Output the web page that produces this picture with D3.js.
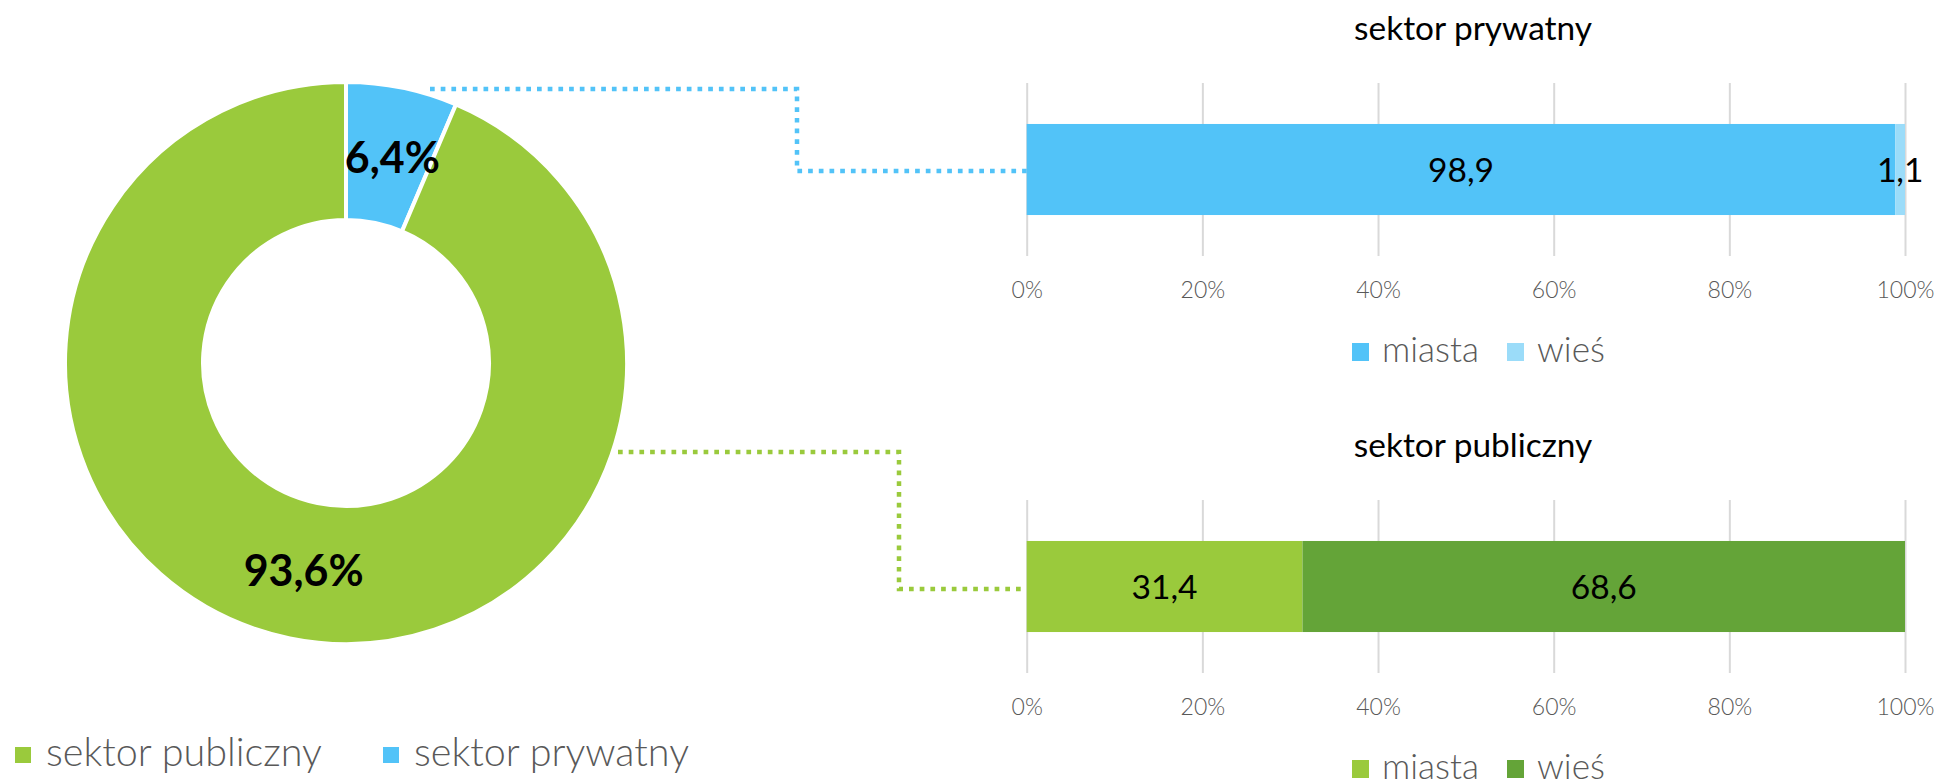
<!DOCTYPE html>
<html lang="pl">
<head>
<meta charset="utf-8">
<script src="https://cdn.jsdelivr.net/npm/d3@7"></script>
<style>
  html, body { margin: 0; padding: 0; background: #fff; overflow: hidden; }
  svg { display: block; }
</style>
</head>
<body>
<svg id="chart" width="1939" height="779"></svg>
<script>
// ---------------- DATA ----------------
const sectors = ["sektor publiczny", "sektor prywatny"];
const sectorShares = [93.6, 6.4];
const areas = ["miasta", "wieś"];
const privateSplit = [98.9, 1.1];
const publicSplit = [31.4, 68.6];
const tickValues = [0, 20, 40, 60, 80, 100];
const tickLabels = ["0%", "20%", "40%", "60%", "80%", "100%"];
const barTitles = ["sektor prywatny", "sektor publiczny"];

// ---------------- STYLE / LAYOUT ----------------
const FONT = "Lato, 'Open Sans', 'DejaVu Sans', sans-serif";
const sectorColors = { "sektor publiczny": "#9ACA3C", "sektor prywatny": "#52C3F8" };
const privateColors = ["#52C3F8", "#9BDCF9"];
const publicColors = ["#9ACA3C", "#64A438"];
const textGray = "#595959";
const gridColor = "#D9D9D9";

const svg = d3.select("#chart");
const locale = d3.formatLocale({ decimal: ",", thousands: " ", grouping: [3], currency: ["", " zł"] });
const f1 = locale.format(".1f");

// helper: font size so that a sample string reaches a target width
function fitSize(weight, sample, targetW) {
  const t = svg.append("text").attr("font-family", FONT).attr("font-weight", weight)
    .attr("font-size", 100).text(sample);
  const w = t.node().getComputedTextLength();
  t.remove();
  return 100 * targetW / w;
}
const donutLabelSize = fitSize(700, "93,6%", 120);
const barLabelSize = fitSize(400, "98,9", 66);
const titleSize = fitSize(400, "sektor prywatny", 238);
const tickSize = fitSize(300, "100%", 58);
const legendSize = fitSize(300, "miasta", 97);
const mainLegendSize = fitSize(300, "sektor publiczny", 276);

// ---------------- DONUT ----------------
const cx = 346, cy = 363, R = 281, r = 143;
const donutData = sectors.map((s, i) => ({ sector: s, value: sectorShares[i] }));
// private sector drawn first so it starts at 12 o'clock, clockwise
const pieOrder = [donutData[1], donutData[0]];
const pie = d3.pie().sort(null).value(d => d.value);
const arc = d3.arc().innerRadius(r).outerRadius(R);
const arcs = pie(pieOrder);

const gDonut = svg.append("g").attr("transform", `translate(${cx},${cy})`);
gDonut.selectAll("path").data(arcs).join("path")
  .attr("d", arc)
  .attr("fill", d => sectorColors[d.data.sector])
  .attr("stroke", "#fff")
  .attr("stroke-width", 4);

gDonut.selectAll("text").data(arcs).join("text")
  .attr("x", d => arc.centroid(d)[0] + (d.data.sector === "sektor prywatny" ? 4 : 0))
  .attr("y", d => arc.centroid(d)[1] + (d.data.sector === "sektor prywatny" ? 2 : 0))
  .attr("dy", "0.36em")
  .attr("text-anchor", "middle")
  .attr("font-family", FONT)
  .attr("font-weight", 700)
  .attr("font-size", donutLabelSize)
  .attr("fill", "#000")
  .text(d => f1(d.data.value) + "%");

// ---------------- BAR CHARTS ----------------
const x = d3.scaleLinear().domain([0, 100]).range([1026.7, 1905]);
const panels = [
  { title: barTitles[0], values: privateSplit, colors: privateColors, top: 0 },
  { title: barTitles[1], values: publicSplit, colors: publicColors, top: 417 }
];

panels.forEach(p => {
  const g = svg.append("g").attr("transform", `translate(0,${p.top})`);
  const gridTop = 83, gridBottom = 256;
  const y = d3.scaleBand().domain(["bar"]).range([gridTop, gridBottom]).paddingInner(0).paddingOuter(0.45);

  // gridlines via axis
  const axis = d3.axisBottom(x).tickValues(tickValues)
    .tickFormat((d, i) => tickLabels[i])
    .tickSize(-(gridBottom - gridTop)).tickPadding(0);
  const ga = g.append("g").attr("transform", `translate(0,${gridBottom})`).call(axis);
  ga.select(".domain").remove();
  ga.selectAll(".tick line").attr("stroke", gridColor).attr("stroke-width", 2);
  ga.selectAll(".tick text")
    .attr("y", 42)
    .attr("dy", 0)
    .attr("fill", textGray)
    .attr("font-family", FONT)
    .attr("font-weight", 300)
    .attr("font-size", tickSize);

  // stacked segments
  let acc = 0;
  const segs = p.values.map((v, i) => { const s = { area: areas[i], v, x0: acc, x1: acc + v, color: p.colors[i] }; acc += v; return s; });
  g.selectAll("rect.seg").data(segs).join("rect")
    .attr("class", "seg")
    .attr("x", d => x(d.x0))
    .attr("width", d => x(d.x1) - x(d.x0))
    .attr("y", y("bar"))
    .attr("height", y.bandwidth())
    .attr("fill", d => d.color);

  g.selectAll("text.val").data(segs).join("text")
    .attr("class", "val")
    .attr("x", d => (x(d.x0) + x(d.x1)) / 2)
    .attr("y", y("bar") + y.bandwidth() / 2)
    .attr("dy", "0.36em")
    .attr("text-anchor", "middle")
    .attr("font-family", FONT)
    .attr("font-size", barLabelSize)
    .attr("fill", "#000")
    .text(d => f1(d.v));

  // title
  g.append("text")
    .attr("x", 1473).attr("y", 40)
    .attr("text-anchor", "middle")
    .attr("font-family", FONT)
    .attr("font-size", titleSize)
    .attr("fill", "#000")
    .text(p.title);

  // legend
  const legX = [1352, 1507];
  const lg = g.selectAll("g.leg").data(areas).join("g").attr("class", "leg")
    .attr("transform", (d, i) => `translate(${legX[i]},343)`);
  lg.append("rect").attr("width", 17).attr("height", 18).attr("fill", (d, i) => p.colors[i]);
  lg.append("text").attr("x", 30).attr("y", 19)
    .attr("font-family", FONT).attr("font-weight", 300)
    .attr("font-size", legendSize).attr("fill", textGray).text(d => d);

  p.barCenter = p.top + y("bar") + y.bandwidth() / 2;
});

// ---------------- CONNECTORS ----------------
const dotted = { "stroke-width": 4.5, "stroke-dasharray": "4.7 6", fill: "none" };
function connector(points, color) {
  const path = svg.append("path")
    .attr("d", d3.line()(points))
    .attr("stroke", color);
  Object.entries(dotted).forEach(([k, v]) => path.attr(k, v));
}
connector([[430, 89], [797, 89], [797, panels[0].barCenter + 1.5], [x(0), panels[0].barCenter + 1.5]], sectorColors["sektor prywatny"]);
connector([[618, 452], [899, 452], [899, panels[1].barCenter + 2.5], [x(0), panels[1].barCenter + 2.5]], sectorColors["sektor publiczny"]);

// ---------------- MAIN LEGEND ----------------
const mainLegX = [15, 383];
const ml = svg.selectAll("g.mleg").data(sectors).join("g").attr("class", "mleg")
  .attr("transform", (d, i) => `translate(${mainLegX[i]},747)`);
ml.append("rect").attr("width", 16).attr("height", 16).attr("fill", d => sectorColors[d]);
ml.append("text").attr("x", 31).attr("y", 19)
  .attr("font-family", FONT).attr("font-weight", 300)
  .attr("font-size", mainLegendSize).attr("fill", textGray).text(d => d);
</script>
</body>
</html>
